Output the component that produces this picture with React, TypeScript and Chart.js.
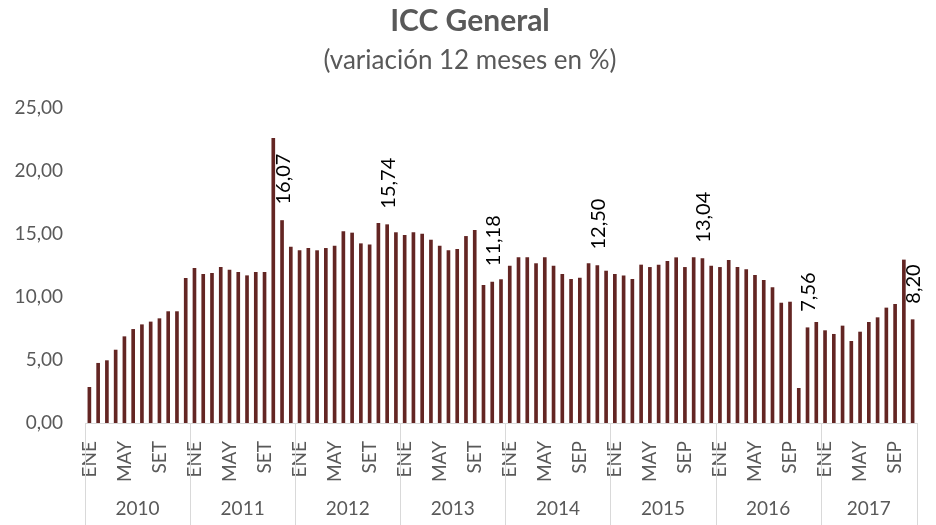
import React, { useEffect, useRef } from 'react';
import { Chart, registerables } from 'chart.js';

Chart.register(...registerables);

const years = ['2010', '2011', '2012', '2013', '2014', '2015', '2016', '2017'];
const monthsSet = ['ENE', 'FEB', 'MAR', 'ABR', 'MAY', 'JUN', 'JUL', 'AGO', 'SET', 'OCT', 'NOV', 'DIC'];
const monthsSep = ['ENE', 'FEB', 'MAR', 'ABR', 'MAY', 'JUN', 'JUL', 'AGO', 'SEP', 'OCT', 'NOV', 'DIC'];

const values2010 = [2.83, 4.74, 4.95, 5.79, 6.85, 7.43, 7.8, 8.02, 8.28, 8.84, 8.84, 11.48];
const values2011 = [12.27, 11.8, 11.88, 12.35, 12.14, 11.96, 11.69, 11.96, 11.96, 22.6, 16.07, 13.97];
const values2012 = [13.68, 13.86, 13.68, 13.86, 14.05, 15.19, 15.08, 14.23, 14.15, 15.85, 15.74, 15.11];
const values2013 = [14.89, 15.11, 15.0, 14.52, 14.05, 13.68, 13.78, 14.81, 15.29, 10.93, 11.18, 11.38];
const values2014 = [12.46, 13.12, 13.12, 12.65, 13.12, 12.46, 11.8, 11.4, 11.51, 12.65, 12.5, 12.06];
const values2015 = [11.8, 11.69, 11.4, 12.54, 12.35, 12.54, 12.83, 13.12, 12.35, 13.12, 13.04, 12.46];
const values2016 = [12.35, 12.91, 12.35, 12.17, 11.72, 11.32, 10.74, 9.52, 9.6, 2.75, 7.56, 7.99];
const values2017 = [7.33, 7.04, 7.7, 6.48, 7.22, 7.99, 8.36, 9.13, 9.42, 12.94, 8.2];

const yearValues = [values2010, values2011, values2012, values2013, values2014, values2015, values2016, values2017];
const labeledMonth = 'NOV';
const labeledYears = ['2011', '2012', '2013', '2014', '2015', '2016', '2017'];
const yTicks = [0, 5, 10, 15, 20, 25];

const title = 'ICC General';
const subtitle = '(variación 12 meses en %)';

const BAR = '#632523';
const GRAY_TEXT = '#595959';
const AXIS = '#d9d9d9';
const FONT = 'Lato, "Open Sans", sans-serif';

const fmt = (v: number) => v.toFixed(2).replace('.', ',');

export default function App() {
  const ref = useRef<HTMLCanvasElement | null>(null);

  useEffect(() => {
    document.body.style.margin = '0';
    const labels: string[] = [];
    const data: number[] = [];
    const yearOfIndex: string[] = [];
    yearValues.forEach((vals, yi) => {
      const names = Number(years[yi]) >= 2014 ? monthsSep : monthsSet;
      vals.forEach((v, mi) => {
        labels.push(names[mi]);
        data.push(v);
        yearOfIndex.push(years[yi]);
      });
    });

    const decor = {
      id: 'decor',
      afterDraw(chart: any) {
        const { ctx, chartArea, canvas } = chart;
        const xs = chart.scales.x;
        const n = labels.length;
        const step = (chartArea.right - chartArea.left) / n;
        ctx.save();
        // titles
        ctx.fillStyle = GRAY_TEXT;
        ctx.textAlign = 'center';
        ctx.textBaseline = 'middle';
        ctx.font = `bold 30px ${FONT}`;
        ctx.fillText(title, 470, 21);
        ctx.font = `26px ${FONT}`;
        ctx.fillText(subtitle, 470, 61);
        // year separators and labels
        ctx.strokeStyle = AXIS;
        ctx.lineWidth = 1;
        let start = 0;
        const bottom = canvas.height / (chart.currentDevicePixelRatio || 1);
        years.forEach((y, yi) => {
          const count = yearValues[yi].length;
          const x0 = xs.left + start * step;
          const x1 = xs.left + (start + count) * step;
          ctx.beginPath();
          ctx.moveTo(Math.round(x0) + 0.5, chartArea.bottom);
          ctx.lineTo(Math.round(x0) + 0.5, bottom);
          ctx.stroke();
          if (yi === years.length - 1) {
            ctx.beginPath();
            ctx.moveTo(Math.round(x1) + 0.5, chartArea.bottom);
            ctx.lineTo(Math.round(x1) + 0.5, bottom);
            ctx.stroke();
          }
          ctx.fillStyle = GRAY_TEXT;
          ctx.font = `19px ${FONT}`;
          ctx.textAlign = 'center';
          ctx.textBaseline = 'middle';
          ctx.fillText(y, (x0 + x1) / 2, 509);
          start += count;
        });
        // data labels
        const meta = chart.getDatasetMeta(0);
        ctx.fillStyle = '#000000';
        ctx.font = `20px ${FONT}`;
        ctx.textAlign = 'left';
        ctx.textBaseline = 'middle';
        labels.forEach((m, i) => {
          if (m === labeledMonth && labeledYears.includes(yearOfIndex[i])) {
            const el = meta.data[i];
            ctx.save();
            ctx.translate(el.x + 1, el.y - 16);
            ctx.rotate(-Math.PI / 2);
            ctx.fillText(fmt(data[i]), 0, 0);
            ctx.restore();
          }
        });
        ctx.restore();
      },
    };

    const chart = new Chart(ref.current as HTMLCanvasElement, {
      type: 'bar',
      data: {
        labels,
        datasets: [
          {
            data,
            backgroundColor: BAR,
            borderWidth: 0,
            barThickness: 3,
          },
        ],
      },
      options: {
        animation: false,
        responsive: false,
        maintainAspectRatio: false,
        layout: { padding: { top: 108, left: 0, right: 19, bottom: 0 } },
        plugins: {
          legend: { display: false },
          tooltip: { enabled: false },
          title: { display: false },
        },
        scales: {
          x: {
            type: 'category',
            grid: { display: false, drawTicks: false },
            border: { display: true, color: AXIS, width: 1 },
            afterFit: (axis: any) => {
              axis.height = 102;
              axis.paddingLeft = 0;
              axis.paddingRight = 0;
            },
            ticks: {
              autoSkip: false,
              minRotation: 90,
              maxRotation: 90,
              padding: 18,
              color: GRAY_TEXT,
              font: { family: FONT, size: 19 },
              callback: function (this: any, value: any, index: number) {
                return index % 12 % 4 === 0 ? labels[index] : '';
              },
            },
          },
          y: {
            min: 0,
            max: 25,
            afterFit: (axis: any) => {
              axis.width = 85;
            },
            afterBuildTicks: (axis: any) => {
              axis.ticks = yTicks.map((v) => ({ value: v }));
            },
            grid: { display: false, drawTicks: false },
            border: { display: false },
            ticks: {
              padding: 22,
              color: GRAY_TEXT,
              font: { family: FONT, size: 19 },
              callback: (v: any) => fmt(Number(v)),
            },
          },
        },
      },
      plugins: [decor],
    });
    return () => chart.destroy();
  }, []);

  return (
    <div style={{ width: 936, height: 525 }}>
      <canvas ref={ref} width={936} height={525} style={{ display: 'block' }} />
    </div>
  );
}
